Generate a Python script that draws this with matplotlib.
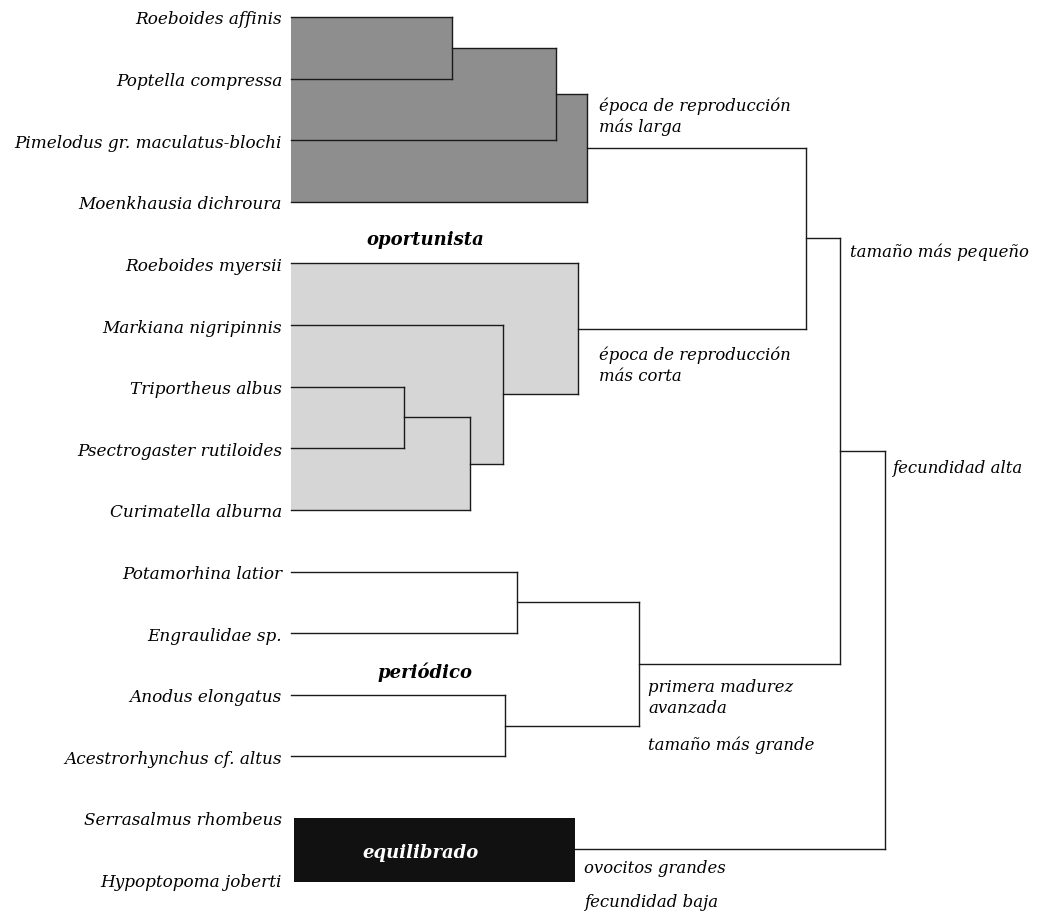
import matplotlib.pyplot as plt
from matplotlib.patches import Polygon, Rectangle

# species in leaf order (top to bottom)
species = [
    "Roeboides affinis", "Poptella compressa", "Pimelodus gr. maculatus-blochi",
    "Moenkhausia dichroura", "Roeboides myersii", "Markiana nigripinnis",
    "Triportheus albus", "Psectrogaster rutiloides", "Curimatella alburna",
    "Potamorhina latior", "Engraulidae sp.", "Anodus elongatus",
    "Acestrorhynchus cf. altus", "Serrasalmus rhombeus", "Hypoptopoma joberti",
]

# merges: (name, left child, right child, height); children are leaf index or merge name
merges = [
    ("A", 0, 1, 1.61),
    ("B", "A", 2, 2.65),
    ("C", "B", 3, 2.96),
    ("D", 6, 7, 1.13),
    ("E", "D", 8, 1.79),
    ("F", 5, "E", 2.12),
    ("G", 4, "F", 2.87),
    ("H", "C", "G", 5.15),
    ("I", 9, 10, 2.26),
    ("J", 11, 12, 2.14),
    ("K", "I", "J", 3.48),
    ("L", "H", "K", 5.49),
    ("Q", 13, 14, 2.84),     # equilibrado block
    ("M", "L", "Q", 5.94),
]
dark_group = ["A", "B", "C"]
light_group = ["D", "E", "F", "G"]
block_node = "Q"

group_labels = ["oportunista", "periódico", "equilibrado"]
notes = [
    "época de reproducción\nmás larga",
    "época de reproducción\nmás corta",
    "tamaño más pequeño",
    "fecundidad alta",
    "primera madurez\navanzada",
    "tamaño más grande",
    "ovocitos grandes",
    "fecundidad baja",
]

SERIF = "DejaVu Serif"
fig = plt.figure(figsize=(10.37, 9.12), dpi=100)
ax = fig.add_axes([0, 0, 1, 1])
ax.set_xlim(-2.91, 7.46)
ax.set_ylim(14.51, -0.292)
ax.axis("off")

# positions of nodes
ypos = {i: float(i) for i in range(len(species))}
xpos = {i: 0.0 for i in range(len(species))}
for name, l, r, h in merges:
    ypos[name] = (ypos[l] + ypos[r]) / 2
    xpos[name] = h

def union_poly(nodes):
    # step outline built from the merge boxes (left edge at 0)
    info = {m[0]: m for m in merges}
    boxes = [(ypos[info[n][1]], ypos[info[n][2]], info[n][3]) for n in nodes]
    ys = sorted(set([b[0] for b in boxes] + [b[1] for b in boxes]))
    pts = []
    for y0, y1 in zip(ys[:-1], ys[1:]):
        w = max(b[2] for b in boxes if b[0] <= y0 and b[1] >= y1)
        pts += [(w, y0), (w, y1)]
    pts = [(0, ys[0])] + pts + [(0, ys[-1])]
    return pts

ax.add_patch(Polygon(union_poly(dark_group), closed=True, facecolor="#8e8e8e",
                     edgecolor="none", zorder=1))
ax.add_patch(Polygon(union_poly(light_group), closed=True, facecolor="#d6d6d6",
                     edgecolor="none", zorder=1))

lc = "#1a1a1a"
for name, l, r, h in merges:
    if name == block_node:
        ax.add_patch(Rectangle((0.03, ypos[l]), h - 0.03, ypos[r] - ypos[l] + 0.04,
                               facecolor="#111111", edgecolor="none", zorder=2))
        continue
    for c in (l, r):
        ax.plot([xpos[c], h], [ypos[c], ypos[c]], color=lc, lw=1.0, zorder=3)
    ax.plot([h, h], [ypos[l], ypos[r]], color=lc, lw=1.0, zorder=3)

for i, sp in enumerate(species):
    ax.text(-0.09, i, sp, ha="right", va="center_baseline", family=SERIF,
            style="italic", fontsize=12.2)

ax.text(1.34, 3.6, group_labels[0], ha="center", va="center", family=SERIF,
        style="italic", weight="bold", fontsize=13)
ax.text(1.34, 10.62, group_labels[1], ha="center", va="center", family=SERIF,
        style="italic", weight="bold", fontsize=13)
ax.text(1.30, 13.56, group_labels[2], ha="center", va="center", family=SERIF,
        style="italic", weight="bold", fontsize=13, color="white", zorder=4)

note_pos = [(3.08, 1.6), (3.08, 5.65), (5.59, 3.80), (6.01, 7.31),
            (3.57, 11.04), (3.57, 11.80), (2.93, 13.81), (2.93, 14.35)]
for txt, (x, y) in zip(notes, note_pos):
    ax.text(x, y, txt, ha="left", va="center", family=SERIF, style="italic",
            fontsize=11.9, linespacing=1.3)

fig.savefig("out.png", dpi=100, facecolor="white")
